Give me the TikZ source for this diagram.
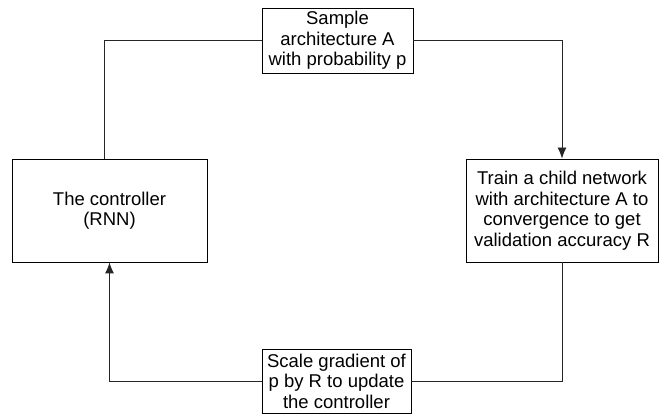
\documentclass[tikz,border=0pt]{standalone}
\usepackage{fontspec}
\setmainfont{Liberation Sans}
\usetikzlibrary{arrows.meta}
\begin{document}
\begin{tikzpicture}[x=1pt,y=-1pt,
  box/.style={draw=black, line width=0.9pt, rectangle, align=center, inner sep=0pt,
    font=\fontsize{18.5}{20.5}\selectfont},
  link/.style={draw=black!85, line width=0.9pt},
  arr/.style={link, -{Latex[length=11pt,width=9pt]}}]
  \useasboundingbox (0,0) rectangle (665,414);
  % the four stages of the search loop
  \node[box, minimum width=151pt, minimum height=65pt] (sample) at (337.5,40.5)
    {Sample\\architecture A\\with probability p};
  \node[box, minimum width=195pt, minimum height=103pt] (ctrl) at (109.5,210.5)
    {The controller\\(RNN)};
  \node[box, minimum width=192pt, minimum height=103pt] (train) at (562,210.5)
    {Train a child network\\with architecture A to\\convergence to get\\validation accuracy R};
  \node[box, minimum width=149pt, minimum height=64pt] (scale) at (336.5,381)
    {Scale gradient of\\p by R to update\\the controller};
  % connectors
  \draw[link] (sample.west) -| ([xshift=-5.5pt]ctrl.north);
  \draw[arr] (sample.east) -| (train.north);
  \draw[link] (train.south) |- (scale.east);
  \draw[arr] (scale.west) -| (ctrl.south);
\end{tikzpicture}
\end{document}
